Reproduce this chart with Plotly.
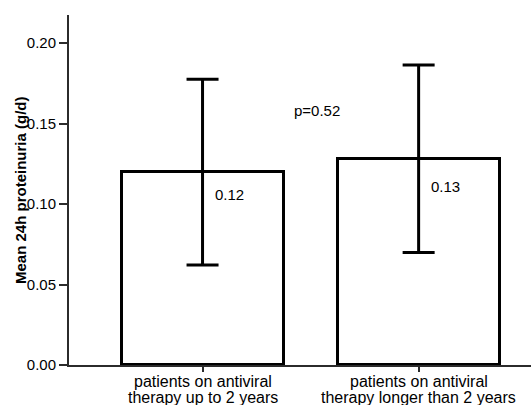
import plotly.graph_objects as go

cat_line1 = ["patients on antiviral", "patients on antiviral"]
cat_line2 = ["therapy up to 2 years", "therapy longer than 2 years"]
means = [0.120, 0.128]
upper = [0.1776, 0.1865]
lower = [0.0621, 0.0699]
value_labels = ["0.12", "0.13"]
p_label = "p=0.52"
y_ticks = [0.0, 0.05, 0.10, 0.15, 0.20]
y_ticktext = ["0.00", "0.05", "0.10", "0.15", "0.20"]

x_pos = list(range(len(cat_line1)))
err_plus = [u - m for u, m in zip(upper, means)]
err_minus = [m - l for m, l in zip(means, lower)]

FONT = "Arial, Liberation Sans, sans-serif"
AX = "#2b2b2b"

fig = go.Figure()
fig.add_trace(go.Bar(
    x=x_pos, y=means, width=0.75,
    marker=dict(color="white", line=dict(color="black", width=3)),
    error_y=dict(type="data", symmetric=False, array=err_plus, arrayminus=err_minus,
                 color="black", thickness=3, width=16),
    showlegend=False, hoverinfo="skip",
))

annotations = []
shifts = [-23, -27]
for i, (m, t) in enumerate(zip(means, value_labels)):
    annotations.append(dict(x=x_pos[i], y=m, xref="x", yref="y", text=t, showarrow=False,
                            xanchor="left", yanchor="middle", xshift=10, yshift=shifts[i],
                            font=dict(family=FONT, size=15, color="black")))
annotations.append(dict(x=0.53, y=0.158, xref="x", yref="y", text=p_label, showarrow=False,
                        xanchor="center", yanchor="middle",
                        font=dict(family=FONT, size=15, color="black")))
annotations.append(dict(x=0, y=0.5, xref="paper", yref="paper", xshift=-49,
                        text="<b>Mean 24h proteinuria (g/d)</b>", textangle=-90,
                        showarrow=False, xanchor="center", yanchor="middle",
                        font=dict(family=FONT, size=15, color="black")))
for i in x_pos:
    for txt, ys in ((cat_line1[i], -16.5), (cat_line2[i], -32.5)):
        annotations.append(dict(x=i, y=0, xref="x", yref="paper", text=txt, showarrow=False,
                                xanchor="center", yanchor="middle", yshift=ys,
                                font=dict(family=FONT, size=16, color="black")))

fig.update_layout(
    width=531, height=405,
    margin=dict(l=69, r=0, t=15, b=40, pad=0, autoexpand=False),
    paper_bgcolor="white", plot_bgcolor="white",
    font=dict(family=FONT, color="black"),
    annotations=annotations,
    bargap=0,
)
fig.update_xaxes(
    range=[-0.618, 1.52], tickmode="array", tickvals=x_pos, showticklabels=False,
    showline=True, linecolor=AX, linewidth=2, ticks="outside", ticklen=5, tickwidth=2,
    tickcolor=AX, showgrid=False, zeroline=False, automargin=False,
)
fig.update_yaxes(
    range=[0, 0.2175], tickmode="array", tickvals=y_ticks, ticktext=y_ticktext,
    showline=True, linecolor=AX, linewidth=2, ticks="outside", ticklen=8, tickwidth=2,
    tickcolor=AX, showgrid=False, zeroline=False, automargin=False,
    tickfont=dict(family=FONT, size=15, color="black"),
)

fig.write_html("out.html", config={"displayModeBar": False},
               post_script="document.body.style.margin='0px';document.body.style.overflow='hidden';")
